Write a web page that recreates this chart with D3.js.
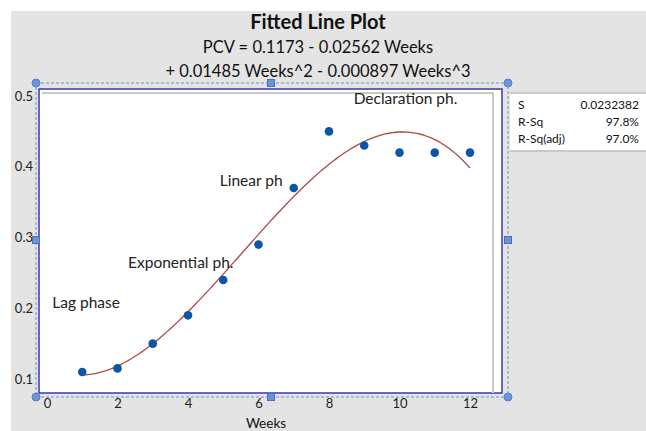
<!DOCTYPE html>
<html><head><meta charset="utf-8">
<script src="https://cdn.jsdelivr.net/npm/d3@7"></script>
<style>html,body{margin:0;padding:0;background:#fff;} svg{display:block;font-family:Lato, "Open Sans", sans-serif;}</style>
</head><body>
<script>
const weeks = [1,2,3,4,5,6,7,8,9,10,11,12];
const pcv = [0.11,0.115,0.15,0.19,0.24,0.29,0.37,0.45,0.43,0.42,0.42,0.42];
const fitCoefficients = [0.1173, -0.02562, 0.01485, -0.000897];
const xTicks = [0,2,4,6,8,10,12];
const yTicks = [0.1,0.2,0.3,0.4,0.5];
const phaseLabels = ["Lag phase","Exponential ph.","Linear ph","Declaration ph."];
const phaseAt = [[0.15,0.2],[2.3,0.257],[4.9,0.373],[8.7,0.488]];
const statNames = ["S","R-Sq","R-Sq(adj)"];
const statValues = ["0.0232382","97.8%","97.0%"];

const W=646,H=431;
const svg=d3.select("body").append("svg").attr("width",W).attr("height",H);
svg.append("rect").attr("x",11).attr("y",11).attr("width",W-11).attr("height",H-11).attr("fill","#e4e4e4");

const x=d3.scaleLinear().domain([0,12]).range([47,470]);
const y=d3.scaleLinear().domain([0.1,0.5]).range([379,96]);

// titles
svg.append("text").attr("x",318).attr("y",29).attr("text-anchor","middle").attr("font-size",20).attr("font-weight","bold").attr("fill","#111").text("Fitted Line Plot");
svg.append("text").attr("x",318).attr("y",53).attr("text-anchor","middle").attr("font-size",16.5).attr("fill","#111").text("PCV = 0.1173 - 0.02562 Weeks");
svg.append("text").attr("x",318).attr("y",77).attr("text-anchor","middle").attr("font-size",16.5).attr("fill","#111").text("+ 0.01485 Weeks^2 - 0.000897 Weeks^3");

// plot area
svg.append("rect").attr("x",39).attr("y",89).attr("width",463).attr("height",304).attr("fill","#fff").attr("stroke","#3838b0").attr("stroke-width",1.5);
svg.append("path").attr("d","M42,93H493V393").attr("fill","none").attr("stroke","#c9c9c9").attr("stroke-width",2);

// stats box
const sb=svg.append("g");
sb.append("rect").attr("x",510).attr("y",93).attr("width",136).attr("height",58).attr("fill","#fff");
sb.append("line").attr("x1",510).attr("x2",646).attr("y1",93).attr("y2",93).attr("stroke","#c9c9c9").attr("stroke-width",2);
sb.append("line").attr("x1",510).attr("x2",646).attr("y1",151).attr("y2",151).attr("stroke","#c9c9c9").attr("stroke-width",2);
statNames.forEach((n,i)=>{
  sb.append("text").attr("x",518).attr("y",109+i*17).attr("font-size",12).attr("fill","#111").text(n);
  sb.append("text").attr("x",639).attr("y",109+i*17).attr("text-anchor","end").attr("font-size",12).attr("fill","#111").text(statValues[i]);
});

// axes
const xa=svg.append("g").attr("transform","translate(0,397)").call(d3.axisBottom(x).tickValues(xTicks).tickSize(0).tickPadding(2).tickFormat(d3.format("d")));
xa.select(".domain").remove();
xa.selectAll("text").attr("font-size",13).attr("fill","#222").attr("font-family","Lato, sans-serif");
const ya=svg.append("g").attr("transform","translate(33,0)").call(d3.axisLeft(y).tickValues(yTicks).tickSize(0).tickPadding(0).tickFormat(d3.format(".1f")));
ya.select(".domain").remove();
ya.selectAll("text").attr("font-size",13).attr("fill","#222").attr("font-family","Lato, sans-serif");
svg.append("text").attr("x",266).attr("y",428).attr("text-anchor","middle").attr("font-size",13.5).attr("fill","#111").text("Weeks");

// fitted line
const fit=w=>fitCoefficients.reduce((s,c,i)=>s+c*Math.pow(w,i),0);
const fx=d3.range(1,12.001,0.1);
svg.append("path").datum(fx).attr("d",d3.line().x(d=>x(d)).y(d=>y(fit(d)))).attr("fill","none").attr("stroke","#b04848").attr("stroke-width",1.3);

// points
svg.selectAll("circle.pt").data(weeks).enter().append("circle").attr("class","pt")
  .attr("cx",d=>x(d)).attr("cy",(d,i)=>y(pcv[i])).attr("r",4.3).attr("fill","#0d55a5");

// labels
phaseLabels.forEach((t,i)=>{
  svg.append("text").attr("x",x(phaseAt[i][0])).attr("y",y(phaseAt[i][1])).attr("font-size",15.5).attr("fill","#222").text(t);
});

// selection frame
const sel=svg.append("g");
sel.append("rect").attr("x",36).attr("y",83).attr("width",472).attr("height",314).attr("fill","none").attr("stroke","#6f8fc8").attr("stroke-width",1).attr("stroke-dasharray","3,2");
[[36,83],[508,83],[36,397],[508,397]].forEach(p=>sel.append("circle").attr("cx",p[0]).attr("cy",p[1]).attr("r",4).attr("fill","#6b93d8").attr("stroke","#5a80c8"));
[[271,83],[36,240],[508,240],[271,397]].forEach(p=>sel.append("rect").attr("x",p[0]-3.5).attr("y",p[1]-3.5).attr("width",7).attr("height",7).attr("fill","#6b93d8").attr("stroke","#4a70b8"));
</script>
</body></html>
